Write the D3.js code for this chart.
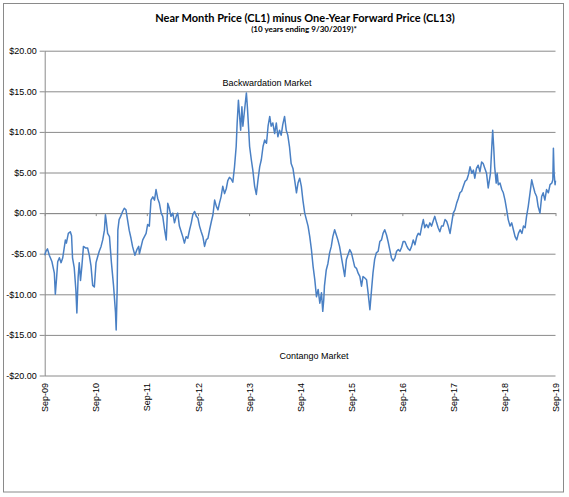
<!DOCTYPE html>
<html>
<head>
<meta charset="utf-8">
<script src="https://cdn.jsdelivr.net/npm/d3@7"></script>
<style>
  body { margin: 0; background: #fff; }
  .axis path, .axis line { stroke: #8a8a8a; }
  .axis text { font-family: "Liberation Sans", Arial, sans-serif; font-size: 9px; fill: #000; }
  .grid line { stroke: #8a8a8a; }
  .grid path { display: none; }
</style>
</head>
<body>
<svg id="chart"></svg>
<script>
var width = 569;
var height = 497;

var title = "Near Month Price (CL1) minus One-Year Forward Price (CL13)";
var subtitle = "(10 years ending  9/30/2019)*";
var topNote = "Backwardation Market";
var bottomNote = "Contango Market";

// y axis ticks, dollars
var yTicks = [-20, -15, -10, -5, 0, 5, 10, 15, 20];

// x axis ticks (Excel date axis starting 9/30/2009, one year apart)
var tickDates = ["2009-09-30", "2010-09-30", "2011-09-30", "2012-09-30", "2013-09-30", "2014-09-30",
                 "2015-09-30", "2016-09-30", "2017-09-30", "2018-09-30", "2019-09-30"];

// CL1 - CL13 spread
var dates = [
  "2009-09-30","2009-10-09","2009-10-20","2009-11-02","2009-11-21","2009-12-08","2009-12-15","2009-12-24",
  "2010-01-01","2010-01-13","2010-01-25","2010-02-06","2010-02-25","2010-03-04","2010-03-18","2010-04-01",
  "2010-04-10","2010-04-17","2010-04-29","2010-05-11","2010-05-18","2010-05-27","2010-06-04","2010-06-13",
  "2010-06-23","2010-07-04","2010-07-21","2010-08-03","2010-08-15","2010-08-27","2010-09-08","2010-09-20",
  "2010-10-02","2010-10-13","2010-10-25","2010-11-07","2010-11-19","2010-12-01","2010-12-08","2010-12-13",
  "2010-12-24","2011-01-06","2011-01-13","2011-01-20","2011-02-04","2011-02-18","2011-02-23","2011-03-02",
  "2011-03-07","2011-03-16","2011-03-27","2011-04-10","2011-04-22","2011-05-04","2011-05-15","2011-05-27",
  "2011-06-09","2011-06-20","2011-07-07","2011-07-21","2011-08-03","2011-08-08","2011-09-01","2011-09-25",
  "2011-10-06","2011-10-18","2011-10-30","2011-11-12","2011-11-24","2011-12-05","2011-12-17","2011-12-29",
  "2012-01-11","2012-01-22","2012-02-04","2012-02-16","2012-02-27","2012-03-09","2012-03-21","2012-04-03",
  "2012-04-15","2012-04-27","2012-05-08","2012-05-20","2012-06-02","2012-06-13","2012-06-25","2012-07-07",
  "2012-07-19","2012-08-01","2012-08-13","2012-08-24","2012-09-06","2012-09-18","2012-09-29","2012-10-11",
  "2012-10-23","2012-11-04","2012-11-16","2012-11-28","2012-12-10","2012-12-22","2013-01-04","2013-01-15",
  "2013-01-27","2013-02-09","2013-02-20","2013-03-02","2013-03-14","2013-03-26","2013-04-08","2013-04-20",
  "2013-05-01","2013-05-13","2013-05-25","2013-06-06","2013-06-18","2013-06-30","2013-07-07","2013-07-16",
  "2013-07-23","2013-08-01","2013-08-10","2013-08-17","2013-08-29","2013-09-11","2013-09-18","2013-09-27",
  "2013-10-04","2013-10-16","2013-10-27","2013-11-09","2013-11-21","2013-12-03","2013-12-15","2013-12-27",
  "2014-01-08","2014-01-20","2014-02-02","2014-02-13","2014-02-25","2014-03-07","2014-03-19","2014-04-01",
  "2014-04-13","2014-04-24","2014-05-06","2014-05-18","2014-05-29","2014-06-11","2014-06-23","2014-07-04",
  "2014-07-16","2014-07-28","2014-08-10","2014-08-22","2014-09-04","2014-09-15","2014-09-27","2014-10-09",
  "2014-10-20","2014-11-02","2014-11-14","2014-11-26","2014-12-08","2014-12-20","2015-01-01","2015-01-13",
  "2015-01-25","2015-02-06","2015-02-18","2015-03-02","2015-03-11","2015-03-18","2015-03-23","2015-04-05",
  "2015-04-17","2015-04-29","2015-05-11","2015-05-22","2015-06-04","2015-06-16","2015-06-27","2015-07-09",
  "2015-07-21","2015-08-03","2015-08-15","2015-08-27","2015-09-08","2015-09-20","2015-10-02","2015-10-13",
  "2015-10-25","2015-11-07","2015-11-19","2015-12-01","2015-12-13","2015-12-24","2016-01-06","2016-01-18",
  "2016-01-29","2016-02-11","2016-02-23","2016-03-04","2016-03-16","2016-03-28","2016-04-10","2016-04-22",
  "2016-05-04","2016-05-15","2016-05-27","2016-06-09","2016-06-20","2016-07-02","2016-07-14","2016-07-26",
  "2016-08-08","2016-08-20","2016-09-01","2016-09-13","2016-09-25","2016-10-06","2016-10-18","2016-10-30",
  "2016-11-11","2016-11-23","2016-12-05","2016-12-17","2016-12-29","2017-01-11","2017-01-22","2017-02-04",
  "2017-02-16","2017-02-27","2017-03-09","2017-03-21","2017-04-03","2017-04-15","2017-04-27","2017-05-08",
  "2017-05-20","2017-06-02","2017-06-13","2017-06-25","2017-07-07","2017-07-19","2017-08-01","2017-08-13",
  "2017-08-24","2017-09-06","2017-09-18","2017-09-29","2017-10-11","2017-10-23","2017-11-04","2017-11-16",
  "2017-11-28","2017-12-10","2017-12-22","2018-01-04","2018-01-15","2018-01-27","2018-02-09","2018-02-20",
  "2018-03-02","2018-03-14","2018-03-26","2018-04-08","2018-04-20","2018-05-01","2018-05-13","2018-05-25",
  "2018-06-06","2018-06-22","2018-07-04","2018-07-08","2018-07-15","2018-07-22","2018-08-02","2018-08-09",
  "2018-08-17","2018-08-29","2018-09-11","2018-09-22","2018-10-04","2018-10-16","2018-10-27","2018-11-09",
  "2018-11-21","2018-12-03","2018-12-15","2018-12-27","2019-01-08","2019-01-20","2019-02-02","2019-02-13",
  "2019-02-25","2019-03-07","2019-03-19","2019-04-01","2019-04-13","2019-04-24","2019-05-06","2019-05-18",
  "2019-05-29","2019-06-11","2019-06-23","2019-07-04","2019-07-16","2019-07-28","2019-08-10","2019-08-22",
  "2019-09-04","2019-09-11","2019-09-15","2019-09-20","2019-09-27","2019-09-30"
];
var spread = [
  -5.2,-4.7,-4.4,-5.2,-6.0,-7.4,-10.0,-8.0,
  -6.0,-5.5,-6.1,-5.5,-3.3,-3.7,-2.5,-2.3,
  -2.8,-5.5,-6.7,-9.5,-12.3,-7.9,-6.1,-8.3,
  -6.5,-4.1,-4.3,-4.3,-5.2,-6.5,-8.9,-9.1,
  -6.1,-5.4,-4.7,-4.1,-3.3,-2.1,-0.2,-0.8,
  -2.5,-2.9,-4.5,-6.1,-8.9,-12.2,-14.4,-9.5,
  -2.1,-0.8,-0.4,0.2,0.6,0.4,-0.8,-2.1,
  -3.1,-4.1,-5.2,-4.5,-4.1,-5.0,-3.3,-2.5,
  -1.4,-1.6,1.6,2.0,1.6,2.9,1.8,1.2,
  0.0,-0.4,-2.05,-3.3,1.2,0.6,-0.4,0.0,
  -1.2,-0.4,0.0,-1.6,-2.3,-2.9,-3.7,-2.9,
  -3.1,-2.05,-1.2,-0.2,0.2,-0.4,-0.6,-1.6,
  -2.3,-2.9,-4.1,-3.3,-3.1,-2.05,-1.0,-0.2,
  1.6,0.8,0.4,1.2,2.0,3.3,2.4,3.0,
  4.0,4.4,4.2,3.8,5.7,8.2,11.1,13.9,
  12.3,10.2,13.1,10.7,12.7,14.8,13.1,10.4,
  8.2,6.6,5.3,3.3,2.3,4.1,5.7,6.6,
  8.2,9.0,8.6,10.7,11.9,10.7,11.1,9.8,
  11.1,9.4,10.2,9.6,10.9,11.9,10.2,9.6,
  8.2,6.1,5.5,4.1,2.5,3.7,4.3,3.3,
  1.6,0.0,-0.8,-1.6,-2.9,-4.5,-6.6,-8.2,
  -10.3,-9.4,-11.1,-9.8,-12.1,-10.7,-9.0,-7.0,
  -6.2,-4.9,-4.1,-2.9,-2.05,-2.7,-3.3,-4.1,
  -5.3,-6.6,-7.8,-5.7,-5.1,-4.5,-4.9,-5.7,
  -6.6,-6.8,-7.4,-7.8,-9.0,-7.8,-8.0,-8.2,
  -9.8,-11.9,-9.4,-7.4,-5.7,-4.9,-4.7,-3.5,
  -3.3,-2.5,-2.05,-2.7,-3.5,-4.5,-5.5,-5.9,
  -5.5,-4.7,-4.5,-4.7,-4.2,-3.5,-3.5,-4.0,
  -4.4,-4.6,-4.1,-3.3,-3.9,-2.9,-2.5,-2.7,
  -1.6,-0.8,-1.8,-1.4,-1.8,-1.2,-1.6,-1.0,
  -0.4,-1.2,-1.8,-2.3,-1.6,-1.6,-0.8,-1.0,
  -1.6,-2.5,-1.2,0.0,0.4,1.2,1.8,2.5,
  2.7,3.3,3.9,4.1,4.7,5.7,4.9,5.3,
  4.3,5.5,5.9,5.1,6.3,6.1,5.5,4.9,
  3.1,4.9,9.0,10.2,8.2,5.7,3.7,4.9,
  3.5,3.7,2.9,2.5,1.6,0.4,-0.8,-1.6,
  -1.2,-2.05,-2.9,-3.3,-2.5,-2.05,-2.5,-1.6,
  -1.8,-0.4,0.8,2.5,4.1,3.3,2.5,2.05,
  0.8,0.0,2.05,2.5,1.6,2.9,2.5,3.5,
  3.7,4.1,8.0,4.9,3.5,4.0
];

var parseDate = d3.timeParse("%Y-%m-%d");
var formatTick = d3.timeFormat("%b-%y");

var plotLeft = 44.7, plotRight = 555.5, plotTop = 50.7, plotBottom = 375.5;

var xScale = d3.scaleTime()
  .domain([parseDate(tickDates[0]), parseDate(tickDates[tickDates.length - 1])])
  .range([plotLeft, plotRight]);
var yScale = d3.scaleLinear()
  .domain([-20, 20])
  .range([plotBottom, plotTop]);

var svg = d3.select("#chart")
  .attr("width", width)
  .attr("height", height);

svg.append("rect")
  .attr("width", width).attr("height", height)
  .attr("fill", "#fff");

// chart border
svg.append("rect")
  .attr("x", 3.5).attr("y", 3.5)
  .attr("width", 560).attr("height", 488.5)
  .attr("fill", "none")
  .attr("stroke", "#8a8a8a");

// horizontal gridlines
svg.append("g")
  .attr("class", "grid")
  .attr("transform", "translate(" + plotLeft + ",0)")
  .call(d3.axisLeft(yScale).tickValues(yTicks).tickSize(-(plotRight - plotLeft)).tickFormat(""));

// y axis
svg.append("g")
  .attr("class", "axis")
  .attr("transform", "translate(" + plotLeft + ",0)")
  .call(d3.axisLeft(yScale)
    .tickValues(yTicks)
    .tickSize(5)
    .tickSizeOuter(0)
    .tickPadding(3)
    .tickFormat(function(d) { return (d < 0 ? "-$" : "$") + Math.abs(d).toFixed(2); }));

// x axis line crosses at $0, ticks there
svg.append("g")
  .attr("class", "axis")
  .attr("transform", "translate(0," + yScale(0) + ")")
  .call(d3.axisBottom(xScale)
    .tickValues(tickDates.map(parseDate))
    .tickSize(3)
    .tickSizeOuter(0)
    .tickFormat(""));

// x labels sit low, below -$20
var xLabels = svg.append("g")
  .attr("class", "axis")
  .attr("transform", "translate(0," + plotBottom + ")")
  .call(d3.axisBottom(xScale)
    .tickValues(tickDates.map(parseDate))
    .tickSize(0)
    .tickFormat(formatTick));
xLabels.select(".domain").remove();
xLabels.selectAll("text")
  .attr("transform", "rotate(-90)")
  .attr("x", -7.5)
  .attr("y", 0)
  .attr("dy", "0.35em")
  .style("text-anchor", "end");

// the series
var series = dates.map(function(d, i) { return { date: parseDate(d), value: spread[i] }; });

var line = d3.line()
  .x(function(d) { return xScale(d.date); })
  .y(function(d) { return yScale(d.value); });

svg.append("path")
  .datum(series)
  .attr("fill", "none")
  .attr("stroke", "#4a80c4")
  .attr("stroke-width", 1.5)
  .attr("stroke-linejoin", "round")
  .attr("d", line);

// titles
svg.append("text")
  .attr("x", 305)
  .attr("y", 21.5)
  .attr("text-anchor", "middle")
  .attr("font-family", "Lato, 'Open Sans', sans-serif")
  .attr("font-weight", "bold")
  .attr("font-size", "11px")
  .text(title);

svg.append("text")
  .attr("x", 304)
  .attr("y", 32)
  .attr("text-anchor", "middle")
  .attr("font-family", "Lato, 'Open Sans', sans-serif")
  .attr("font-weight", "bold")
  .attr("font-size", "8px")
  .text(subtitle);

// market notes
svg.append("text")
  .attr("x", 267)
  .attr("y", 86)
  .attr("text-anchor", "middle")
  .attr("font-family", "'Liberation Sans', Arial, sans-serif")
  .attr("font-size", "9px")
  .text(topNote);

svg.append("text")
  .attr("x", 314)
  .attr("y", 359)
  .attr("text-anchor", "middle")
  .attr("font-family", "'Liberation Sans', Arial, sans-serif")
  .attr("font-size", "9px")
  .text(bottomNote);
</script>
</body>
</html>
